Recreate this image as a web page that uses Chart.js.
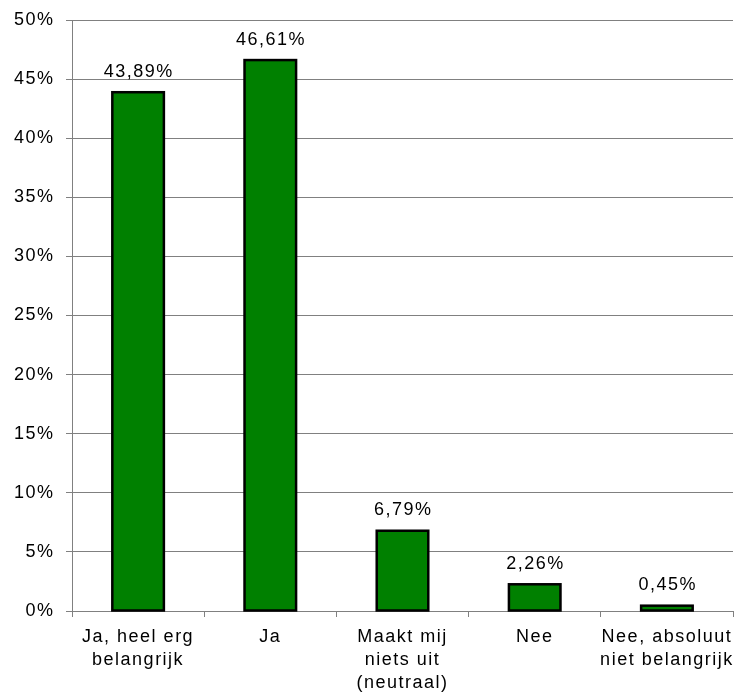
<!DOCTYPE html>
<html>
<head>
<meta charset="utf-8">
<script src="https://cdn.jsdelivr.net/npm/chart.js@4/dist/chart.umd.min.js"></script>
<style>
  html, body { margin: 0; padding: 0; background: #fff; }
  #wrap { width: 736px; height: 699px; }
</style>
</head>
<body>
<div id="wrap"><canvas id="c" width="736" height="699"></canvas></div>
<script>
const categories = [
  ["Ja, heel erg", "belangrijk"],
  "Ja",
  ["Maakt mij", "niets uit", "(neutraal)"],
  "Nee",
  ["Nee, absoluut", "niet belangrijk"]
];
const percentages = [43.89, 46.61, 6.79, 2.26, 0.45];
const yTicks = [0, 5, 10, 15, 20, 25, 30, 35, 40, 45, 50];

const FONT = "'Liberation Sans', Arial, sans-serif";
const LETTER_SPACING = '1.5px';

// wide lettering for every text on the canvas
const spacing = {
  id: 'spacing',
  beforeLayout(chart) { chart.ctx.letterSpacing = LETTER_SPACING; },
  beforeDraw(chart) { chart.ctx.letterSpacing = LETTER_SPACING; }
};

// bar outlines stroked on the bar edges, plus the value above each bar
const barDecor = {
  id: 'barDecor',
  afterDatasetsDraw(chart) {
    const ctx = chart.ctx;
    const meta = chart.getDatasetMeta(0);
    ctx.save();
    ctx.strokeStyle = '#000';
    ctx.lineWidth = 2.5;
    ctx.lineJoin = 'miter';
    meta.data.forEach(bar => {
      const w = bar.width;
      ctx.strokeRect(bar.x - w / 2, bar.y, w, bar.base - bar.y);
    });
    ctx.letterSpacing = LETTER_SPACING;
    ctx.font = "18px " + FONT;
    ctx.fillStyle = "#000";
    ctx.textAlign = "center";
    ctx.textBaseline = "alphabetic";
    meta.data.forEach((bar, i) => {
      const txt = percentages[i].toFixed(2).replace('.', ',') + '%';
      ctx.fillText(txt, bar.x + 0.75, bar.y - 15.5);
    });
    ctx.restore();
  }
};

new Chart(document.getElementById('c'), {
  type: 'bar',
  data: {
    labels: categories,
    datasets: [{
      data: percentages,
      backgroundColor: '#008000',
      borderWidth: 0,
      categoryPercentage: 1,
      barPercentage: 0.39
    }]
  },
  options: {
    responsive: false,
    animation: false,
    devicePixelRatio: 1,
    layout: { padding: { left: 0, right: 3, top: 20, bottom: 0 } },
    plugins: {
      legend: { display: false },
      tooltip: { enabled: false }
    },
    scales: {
      x: {
        offset: true,
        grid: {
          offset: true,
          drawOnChartArea: false,
          drawTicks: true,
          tickLength: 6,
          color: '#808080'
        },
        border: { color: '#808080', width: 1 },
        ticks: {
          color: '#000',
          font: { family: FONT, size: 18, lineHeight: 1.3 },
          padding: 8,
          maxRotation: 0,
          autoSkip: false
        },
        afterFit(scale) {
          scale.height = 88;
          scale.paddingLeft = 0;
          scale.paddingRight = 0;
        }
      },
      y: {
        min: 0,
        max: 50,
        afterBuildTicks(scale) { scale.ticks = yTicks.map(v => ({ value: v })); },
        grid: {
          color: '#808080',
          tickLength: 6,
          lineWidth: 1
        },
        border: { color: '#808080', width: 1 },
        ticks: {
          color: '#000',
          font: { family: FONT, size: 18 },
          padding: 11.5,
          callback: v => v + '%'
        },
        afterFit(scale) {
          scale.width = 72;
          scale.paddingTop = 0;
          scale.paddingBottom = 0;
        }
      }
    }
  },
  plugins: [spacing, barDecor]
});
</script>
</body>
</html>
